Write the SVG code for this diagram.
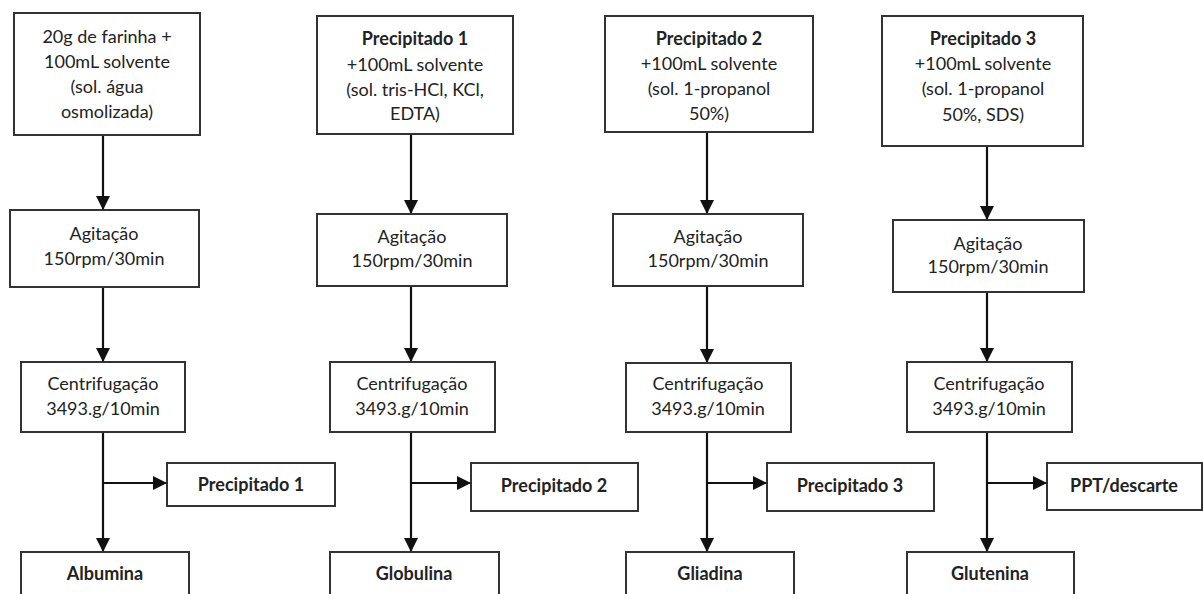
<svg xmlns="http://www.w3.org/2000/svg" width="1203" height="594" viewBox="0 0 1203 594">
<style>
.box{fill:#fff;stroke:#333;stroke-width:2}
.t{font-family:Lato,"Open Sans","Liberation Sans",sans-serif;font-size:18px;fill:#222;text-anchor:middle}
.b{font-weight:bold}
.c{stroke:#111;stroke-width:2.2;fill:none}
</style>
<defs>
<marker id="ah" markerUnits="userSpaceOnUse" markerWidth="14" markerHeight="14" refX="14" refY="7" orient="auto">
<path d="M0,0 L14,7 L0,14 z" fill="#111"/>
</marker>
</defs>
<rect width="1203" height="594" fill="#fff"/>
<g id="connectors">
<path class="c" d="M103,135 V210" marker-end="url(#ah)"/>
<path class="c" d="M103,287 V362" marker-end="url(#ah)"/>
<path class="c" d="M103,432 V552" marker-end="url(#ah)"/>
<path class="c" d="M103,483 H167" marker-end="url(#ah)"/>
<path class="c" d="M411,134 V214" marker-end="url(#ah)"/>
<path class="c" d="M411,286 V362" marker-end="url(#ah)"/>
<path class="c" d="M411,432 V552" marker-end="url(#ah)"/>
<path class="c" d="M411,483 H471" marker-end="url(#ah)"/>
<path class="c" d="M707,132 V214" marker-end="url(#ah)"/>
<path class="c" d="M707,286 V363" marker-end="url(#ah)"/>
<path class="c" d="M707,432 V552" marker-end="url(#ah)"/>
<path class="c" d="M707,483 H767" marker-end="url(#ah)"/>
<path class="c" d="M987,146 V220" marker-end="url(#ah)"/>
<path class="c" d="M987,292 V362" marker-end="url(#ah)"/>
<path class="c" d="M987,432 V552" marker-end="url(#ah)"/>
<path class="c" d="M987,483 H1047" marker-end="url(#ah)"/>
</g>
<g id="n1-top"><rect class="box" x="14" y="13" width="186" height="122"/>
<text class="t" x="107" y="43">20g de farinha +</text>
<text class="t" x="107" y="68">100mL solvente</text>
<text class="t" x="107" y="93">(sol. água</text>
<text class="t" x="107" y="118">osmolizada)</text></g>
<g id="n1-agit"><rect class="box" x="10" y="210" width="189" height="77"/>
<text class="t" x="104" y="240">Agitação</text>
<text class="t" x="104" y="265">150rpm/30min</text></g>
<g id="n1-cent"><rect class="box" x="21" y="362" width="164" height="70"/>
<text class="t" x="103" y="390">Centrifugação</text>
<text class="t" x="103" y="415">3493.g/10min</text></g>
<g id="n1-ppt"><rect class="box" x="167" y="463" width="168" height="43"/>
<text class="t b" x="251" y="491">Precipitado 1</text></g>
<g id="n1-res"><rect class="box" x="21" y="552" width="168" height="60"/>
<text class="t b" x="105" y="580">Albumina</text></g>

<g id="n2-top"><rect class="box" x="317" y="16" width="196" height="118"/>
<text class="t b" x="415" y="45">Precipitado 1</text>
<text class="t" x="415" y="71">+100mL solvente</text>
<text class="t" x="415" y="96">(sol. tris-HCl, KCl,</text>
<text class="t" x="415" y="120">EDTA)</text></g>
<g id="n2-agit"><rect class="box" x="317" y="214" width="190" height="72"/>
<text class="t" x="412" y="243">Agitação</text>
<text class="t" x="412" y="267">150rpm/30min</text></g>
<g id="n2-cent"><rect class="box" x="330" y="362" width="165" height="70"/>
<text class="t" x="412" y="390">Centrifugação</text>
<text class="t" x="412" y="415">3493.g/10min</text></g>
<g id="n2-ppt"><rect class="box" x="471" y="463" width="167" height="48"/>
<text class="t b" x="554" y="492">Precipitado 2</text></g>
<g id="n2-res"><rect class="box" x="330" y="552" width="169" height="60"/>
<text class="t b" x="414" y="580">Globulina</text></g>

<g id="n3-top"><rect class="box" x="605" y="16" width="208" height="116"/>
<text class="t b" x="709" y="45">Precipitado 2</text>
<text class="t" x="709" y="70">+100mL solvente</text>
<text class="t" x="709" y="95">(sol. 1-propanol</text>
<text class="t" x="709" y="120">50%)</text></g>
<g id="n3-agit"><rect class="box" x="613" y="214" width="190" height="72"/>
<text class="t" x="708" y="243">Agitação</text>
<text class="t" x="708" y="267">150rpm/30min</text></g>
<g id="n3-cent"><rect class="box" x="626" y="363" width="165" height="69"/>
<text class="t" x="708" y="390">Centrifugação</text>
<text class="t" x="708" y="415">3493.g/10min</text></g>
<g id="n3-ppt"><rect class="box" x="767" y="463" width="167" height="48"/>
<text class="t b" x="850" y="492">Precipitado 3</text></g>
<g id="n3-res"><rect class="box" x="626" y="552" width="168" height="60"/>
<text class="t b" x="710" y="580">Gliadina</text></g>

<g id="n4-top"><rect class="box" x="882" y="16" width="201" height="130"/>
<text class="t b" x="983" y="45">Precipitado 3</text>
<text class="t" x="983" y="70">+100mL solvente</text>
<text class="t" x="983" y="95">(sol. 1-propanol</text>
<text class="t" x="983" y="121">50%, SDS)</text></g>
<g id="n4-agit"><rect class="box" x="893" y="220" width="191" height="72"/>
<text class="t" x="988" y="250">Agitação</text>
<text class="t" x="988" y="273">150rpm/30min</text></g>
<g id="n4-cent"><rect class="box" x="907" y="362" width="165" height="70"/>
<text class="t" x="989" y="390">Centrifugação</text>
<text class="t" x="989" y="415">3493.g/10min</text></g>
<g id="n4-ppt"><rect class="box" x="1047" y="463" width="155" height="47"/>
<text class="t b" x="1124" y="492">PPT/descarte</text></g>
<g id="n4-res"><rect class="box" x="907" y="552" width="167" height="60"/>
<text class="t b" x="990" y="580">Glutenina</text></g>
</svg>
